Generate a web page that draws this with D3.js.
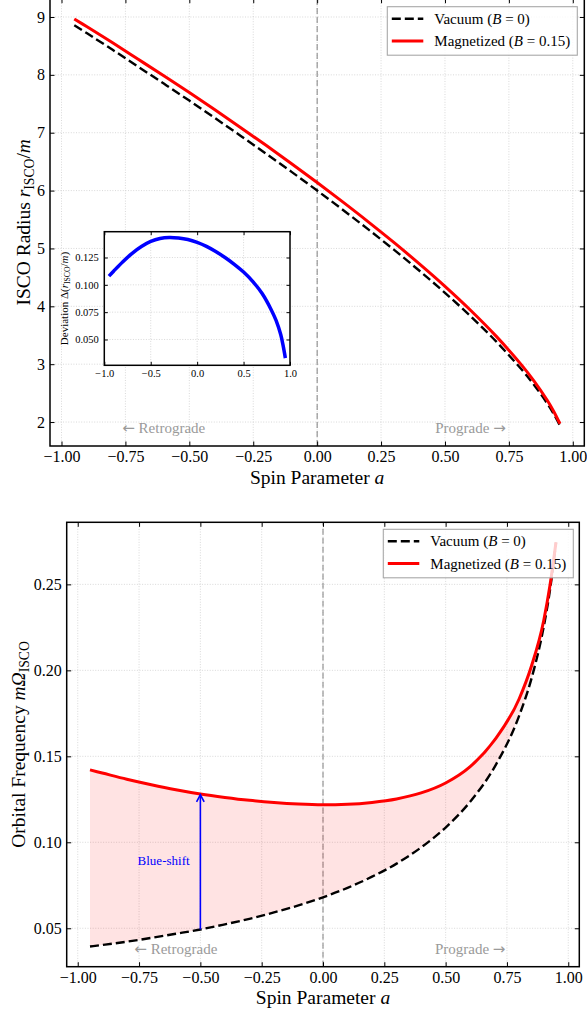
<!DOCTYPE html>
<html>
<head>
<meta charset="utf-8">
<script src="https://cdn.jsdelivr.net/npm/d3@7"></script>
<style>
  body { margin: 0; background: #fff; }
  svg text { font-family: "Liberation Serif", "Times New Roman", serif; }
</style>
</head>
<body>
<svg id="chart" width="587" height="1016"></svg>
<script>
// values
const spin = [-0.95, -0.9, -0.8, -0.7, -0.6, -0.5, -0.4, -0.3, -0.2, -0.1, 0,
              0.1, 0.2, 0.3, 0.4, 0.5, 0.6, 0.7, 0.8, 0.85, 0.9, 0.925, 0.95];
const rIscoVacuum = [8.858, 8.717, 8.432, 8.140, 7.849, 7.555, 7.254, 6.949, 6.639, 6.323, 6.000,
                     5.669, 5.329, 4.979, 4.614, 4.233, 3.829, 3.393, 2.907, 2.633, 2.321, 2.143, 1.937];
const rIscoMagnetized = [8.966, 8.830, 8.553, 8.269, 7.984, 7.695, 7.396, 7.092, 6.782, 6.464, 6.139,
                         5.804, 5.460, 5.104, 4.733, 4.345, 3.932, 3.485, 2.984, 2.700, 2.376, 2.188, 1.970];
const rIscoDeviation = [0.1080, 0.1125, 0.1212, 0.1288, 0.1350, 0.1397, 0.1424, 0.1433, 0.1428, 0.1414, 0.1388,
                        0.1352, 0.1305, 0.1250, 0.1188, 0.1117, 0.1030, 0.0920, 0.0768, 0.0674, 0.0545, 0.0448, 0.0330];
const omegaVacuum = [0.0394, 0.0403, 0.0422, 0.0444, 0.0468, 0.0493, 0.0523, 0.0555, 0.0592, 0.0633, 0.0680,
                     0.0735, 0.0800, 0.0876, 0.0970, 0.1086, 0.1236, 0.1439, 0.1737, 0.1952, 0.2254, 0.2462, 0.2743];
const omegaMagnetized = [0.1421, 0.1403, 0.1367, 0.1335, 0.1306, 0.1281, 0.1261, 0.1244, 0.1231, 0.1222, 0.1218,
                         0.1221, 0.1232, 0.1252, 0.1287, 0.1345, 0.1440, 0.1595, 0.1835, 0.2025, 0.2290, 0.2490, 0.2745];

const spinTicks = [-1, -0.75, -0.5, -0.25, 0, 0.25, 0.5, 0.75, 1];
const radiusTicks = [2, 3, 4, 5, 6, 7, 8, 9];
const omegaTicks = [0.05, 0.10, 0.15, 0.20, 0.25];
const insetSpinTicks = [-1, -0.5, 0, 0.5, 1];
const insetDevTicks = [0.05, 0.075, 0.10, 0.125];
const seriesNames = ["Vacuum", "Magnetized"];
const fieldValues = ["0", "0.15"];
const arrowSpin = -0.5;

const rows = spin.map((a, i) => ({
    a: a,
    rv: rIscoVacuum[i], rm: rIscoMagnetized[i], dev: rIscoDeviation[i],
    ov: omegaVacuum[i], om: omegaMagnetized[i]
}));

const svg = d3.select("#chart");
const gridColor = "#cfcfcf";
const smooth = d3.curveCatmullRom.alpha(0.5);

// text with italic / subscript pieces
function rich(text, parts, size) {
    let shift = 0;
    parts.forEach(p => {
        const t = text.append("tspan").text(p.t);
        if (p.i) t.attr("font-style", "italic");
        if (p.sym) t.attr("font-family", "DejaVu Sans");
        if (p.sub && shift === 0) {
            t.attr("font-size", size * 0.7).attr("dy", size * 0.22);
            shift = size * 0.22;
        } else if (!p.sub && shift !== 0) {
            t.attr("dy", -shift);
            shift = 0;
        }
    });
}

function drawGrid(g, x, y, xt, yt) {
    const [x0, x1] = x.range(), [y0, y1] = y.range();
    g.append("g").selectAll("line").data(xt).join("line")
        .attr("x1", d => x(d)).attr("x2", d => x(d))
        .attr("y1", y0).attr("y2", y1)
        .attr("stroke", gridColor).attr("stroke-width", 0.8)
        .attr("stroke-dasharray", "1,1.6");
    g.append("g").selectAll("line").data(yt).join("line")
        .attr("x1", x0).attr("x2", x1)
        .attr("y1", d => y(d)).attr("y2", d => y(d))
        .attr("stroke", gridColor).attr("stroke-width", 0.8)
        .attr("stroke-dasharray", "1,1.6");
}

function drawAxes(g, x, y, xt, yt, o) {
    const [x0, x1] = x.range(), [y0, y1] = y.range();
    const style = sel => {
        sel.select(".domain").remove();
        sel.selectAll("line").attr("stroke", "#000").attr("stroke-width", o.tickW);
        sel.selectAll("text")
            .attr("font-family", "Liberation Serif, Times New Roman, serif")
            .attr("font-size", o.font).attr("fill", "#000");
    };
    g.append("g").attr("transform", `translate(0,${y0})`)
        .call(d3.axisBottom(x).tickValues(xt).tickFormat(o.xfmt)
            .tickSizeInner(-o.tick).tickSizeOuter(0).tickPadding(o.padX))
        .call(style);
    g.append("g").attr("transform", `translate(0,${y1})`)
        .call(d3.axisTop(x).tickValues(xt).tickFormat("")
            .tickSizeInner(-o.tick).tickSizeOuter(0))
        .call(style);
    g.append("g").attr("transform", `translate(${x0},0)`)
        .call(d3.axisLeft(y).tickValues(yt).tickFormat(o.yfmt)
            .tickSizeInner(-o.tick).tickSizeOuter(0).tickPadding(o.padY))
        .call(style);
    g.append("g").attr("transform", `translate(${x1},0)`)
        .call(d3.axisRight(y).tickValues(yt).tickFormat("")
            .tickSizeInner(-o.tick).tickSizeOuter(0))
        .call(style);
    g.append("rect")
        .attr("x", x0).attr("y", y1)
        .attr("width", x1 - x0).attr("height", y0 - y1)
        .attr("fill", "none").attr("stroke", "#000").attr("stroke-width", o.spineW);
}

function drawLegend(g, left, topY) {
    const w = 190, h = 48.5;
    g.append("rect")
        .attr("x", left).attr("y", topY).attr("width", w).attr("height", h)
        .attr("fill", "#fff").attr("fill-opacity", 0.8)
        .attr("stroke", "#a8a8a8").attr("stroke-width", 1.1);
    seriesNames.forEach((name, i) => {
        const cy = topY + 12 + i * 22.2;
        g.append("line")
            .attr("x1", left + 4.5).attr("x2", left + 36)
            .attr("y1", cy).attr("y2", cy)
            .attr("stroke", i === 0 ? "#000" : "red")
            .attr("stroke-width", i === 0 ? 2.4 : 3)
            .attr("stroke-dasharray", i === 0 ? "9,4" : null);
        const t = g.append("text")
            .attr("x", left + 47).attr("y", cy)
            .attr("dominant-baseline", "central")
            .attr("font-size", 15);
        rich(t, [{t: name + " ("}, {t: "B", i: true}, {t: " = " + fieldValues[i] + ")"}], 15);
    });
}

function sideNotes(g, x, y) {
    const [y0, y1] = y.range();
    const yy = y0 - 0.04 * (y0 - y1);
    g.append("text").attr("x", x(-0.6)).attr("y", yy)
        .attr("text-anchor", "middle").attr("dominant-baseline", "central")
        .attr("font-size", 15).attr("fill", "#9a9a9a")
        .call(t => rich(t, [{t: "\u2190", sym: true}, {t: " Retrograde"}], 15));
    g.append("text").attr("x", x(0.6)).attr("y", yy)
        .attr("text-anchor", "middle").attr("dominant-baseline", "central")
        .attr("font-size", 15).attr("fill", "#9a9a9a")
        .call(t => rich(t, [{t: "Prograde "}, {t: "\u2192", sym: true}], 15));
}

function zeroLine(g, x, y) {
    const [y0, y1] = y.range();
    g.append("line")
        .attr("x1", x(0)).attr("x2", x(0)).attr("y1", y0).attr("y2", y1)
        .attr("stroke", "#808080").attr("stroke-width", 1)
        .attr("stroke-dasharray", "6,3");
}

// ---------- top panel: ISCO radius ----------
const x1 = d3.scaleLinear().domain([-1.045, 1.045]).range([50, 584.3]);
const y1 = d3.scaleLinear().domain([1.586, 9.316]).range([446, -1.3]);
const topPanel = svg.append("g");

drawGrid(topPanel, x1, y1, spinTicks, radiusTicks);
zeroLine(topPanel, x1, y1);

topPanel.append("path").datum(rows)
    .attr("fill", "none").attr("stroke", "#000").attr("stroke-width", 2.4)
    .attr("stroke-dasharray", "9,4")
    .attr("d", d3.line().x(d => x1(d.a)).y(d => y1(d.rv)).curve(smooth));
topPanel.append("path").datum(rows)
    .attr("fill", "none").attr("stroke", "red").attr("stroke-width", 3)
    .attr("d", d3.line().x(d => x1(d.a)).y(d => y1(d.rm)).curve(smooth));

sideNotes(topPanel, x1, y1);
drawLegend(topPanel, 387.3, 6.7);
drawAxes(topPanel, x1, y1, spinTicks, radiusTicks, {
    xfmt: d3.format(".2f"), yfmt: d3.format("d"),
    tick: 4.5, tickW: 1, padX: 5, padY: 5, font: 16, spineW: 1.5
});

topPanel.append("text")
    .attr("x", (50 + 584.3) / 2).attr("y", 484)
    .attr("text-anchor", "middle").attr("font-size", 19.5)
    .call(t => rich(t, [{t: "Spin Parameter "}, {t: "a", i: true}], 19.5));
topPanel.append("text")
    .attr("transform", `translate(29.5,${(446 - 1.3) / 2}) rotate(-90)`)
    .attr("text-anchor", "middle").attr("font-size", 19.5)
    .call(t => rich(t, [{t: "ISCO Radius "}, {t: "r", i: true}, {t: "ISCO", sub: true},
        {t: "/"}, {t: "m", i: true}], 19.5));

// inset: deviation
const xi = d3.scaleLinear().domain([-1.0, 1.0]).range([104.3, 290]);
const yi = d3.scaleLinear().domain([0.0264, 0.1486]).range([365.3, 231.7]);
const inset = svg.append("g");
inset.append("rect")
    .attr("x", 104.3).attr("y", 231.7).attr("width", 290 - 104.3).attr("height", 365.3 - 231.7)
    .attr("fill", "#fff");
drawGrid(inset, xi, yi, insetSpinTicks.slice(1, -1), insetDevTicks);
inset.append("path").datum(rows)
    .attr("fill", "none").attr("stroke", "#0000ff").attr("stroke-width", 3.5)
    .attr("d", d3.line().x(d => xi(d.a)).y(d => yi(d.dev)).curve(smooth));
drawAxes(inset, xi, yi, insetSpinTicks, insetDevTicks, {
    xfmt: d3.format(".1f"), yfmt: d3.format(".3f"),
    tick: 3.5, tickW: 1, padX: 4.5, padY: 5.5, font: 10.5, spineW: 1.5
});
inset.append("text")
    .attr("transform", `translate(68,${(231.7 + 365.3) / 2}) rotate(-90)`)
    .attr("text-anchor", "middle").attr("font-size", 11)
    .call(t => rich(t, [{t: "Deviation \u0394("}, {t: "r", i: true}, {t: "ISCO", sub: true},
        {t: "/"}, {t: "m", i: true}, {t: ")"}], 11));

// ---------- bottom panel: orbital frequency ----------
const x2 = d3.scaleLinear().domain([-1.045, 1.045]).range([66.7, 579.3]);
const y2 = d3.scaleLinear().domain([0.02765, 0.2861]).range([966.7, 522.3]);
const botPanel = svg.append("g");

drawGrid(botPanel, x2, y2, spinTicks, omegaTicks);
zeroLine(botPanel, x2, y2);

botPanel.append("path").datum(rows)
    .attr("fill", "red").attr("fill-opacity", 0.11)
    .attr("d", d3.area().x(d => x2(d.a)).y0(d => y2(d.ov)).y1(d => y2(d.om)).curve(d3.curveMonotoneX));
botPanel.append("path").datum(rows)
    .attr("fill", "none").attr("stroke", "#000").attr("stroke-width", 2.4)
    .attr("stroke-dasharray", "9,4")
    .attr("d", d3.line().x(d => x2(d.a)).y(d => y2(d.ov)).curve(d3.curveMonotoneX));
botPanel.append("path").datum(rows)
    .attr("fill", "none").attr("stroke", "red").attr("stroke-width", 3)
    .attr("d", d3.line().x(d => x2(d.a)).y(d => y2(d.om)).curve(d3.curveMonotoneX));

// blue-shift arrow
const ai = spin.indexOf(arrowSpin);
const ax = x2(arrowSpin), aFrom = y2(omegaVacuum[ai]), aTo = y2(omegaMagnetized[ai]);
botPanel.append("line")
    .attr("x1", ax).attr("x2", ax).attr("y1", aFrom).attr("y2", aTo + 0.8)
    .attr("stroke", "#0000ff").attr("stroke-width", 1.6);
botPanel.append("path")
    .attr("d", `M${ax - 3.8},${aTo + 8} L${ax},${aTo + 0.8} L${ax + 3.8},${aTo + 8}`)
    .attr("fill", "none").attr("stroke", "#0000ff").attr("stroke-width", 1.6);
botPanel.append("text")
    .attr("x", x2(-0.65)).attr("y", y2(0.0893))
    .attr("text-anchor", "middle").attr("dominant-baseline", "central")
    .attr("font-size", 13).attr("fill", "#0000ff")
    .text("Blue-shift");

sideNotes(botPanel, x2, y2);
drawLegend(botPanel, 383.3, 529.3);
drawAxes(botPanel, x2, y2, spinTicks, omegaTicks, {
    xfmt: d3.format(".2f"), yfmt: d3.format(".2f"),
    tick: 4.5, tickW: 1, padX: 5, padY: 5, font: 16, spineW: 1.5
});

botPanel.append("text")
    .attr("x", (66.7 + 579.3) / 2).attr("y", 1003.5)
    .attr("text-anchor", "middle").attr("font-size", 19.5)
    .call(t => rich(t, [{t: "Spin Parameter "}, {t: "a", i: true}], 19.5));
botPanel.append("text")
    .attr("transform", `translate(25,${(966.7 + 522.3) / 2}) rotate(-90)`)
    .attr("text-anchor", "middle").attr("font-size", 19.5)
    .call(t => rich(t, [{t: "Orbital Frequency "}, {t: "m\u03A9", i: true}, {t: "ISCO", sub: true}], 19.5));
</script>
</body>
</html>
